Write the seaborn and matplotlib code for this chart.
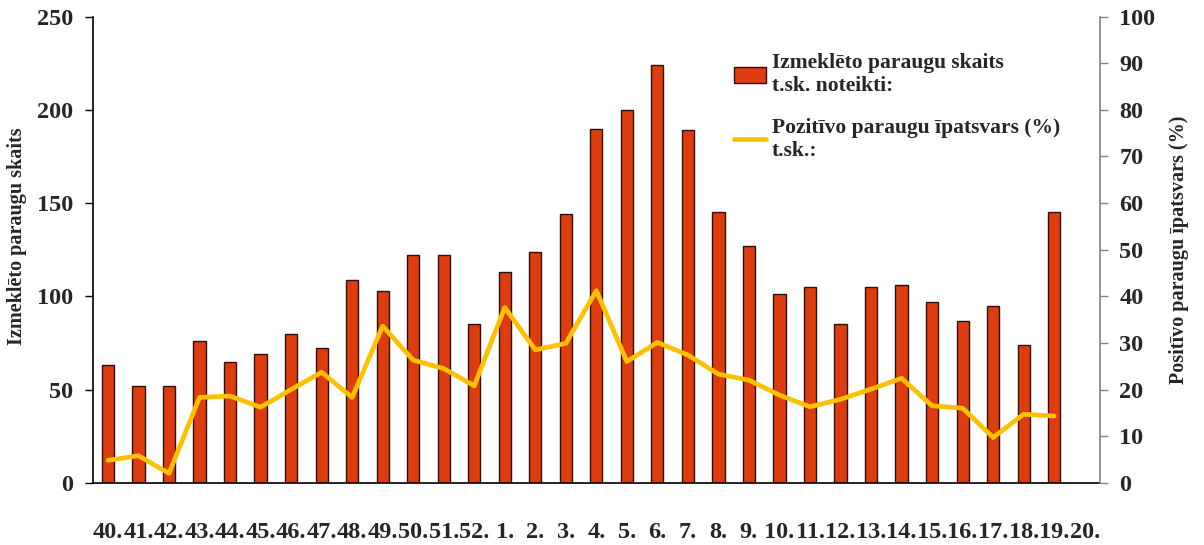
import matplotlib
matplotlib.use("Agg")
import matplotlib.pyplot as plt
import seaborn as sns
import numpy as np
import pandas as pd

weeks = ["40.", "41.", "42.", "43.", "44.", "45.", "46.", "47.", "48.", "49.",
         "50.", "51.", "52.", "1.", "2.", "3.", "4.", "5.", "6.", "7.", "8.",
         "9.", "10.", "11.", "12.", "13.", "14.", "15.", "16.", "17.", "18.",
         "19.", "20."]
samples = [63, 52, 52, 76, 65, 69, 80, 72, 109, 103,
           122, 122, 85, 113, 124, 144, 190, 200, 224, 189, 145,
           127, 101, 105, 85, 105, 106, 97, 87, 95, 74, 145]
positive_pct = [4.8, 5.8, 2.0, 18.3, 18.6, 16.2, 20.0, 23.7, 18.3, 33.6,
                26.3, 24.5, 20.8, 37.6, 28.5, 29.9, 41.2, 26.0, 30.1, 27.4, 23.3,
                22.0, 18.8, 16.3, 17.9, 20.1, 22.4, 16.5, 16.0, 9.7, 14.7, 14.3]

bar_label = "Izmeklēto paraugu skaits\nt.sk. noteikti:"
line_label = "Pozitīvo paraugu īpatsvars (%)\nt.sk.:"

sns.set_theme(style="white")
plt.rcParams["font.family"] = ["Liberation Serif", "DejaVu Serif"]
plt.rcParams["font.weight"] = "bold"

fig = plt.figure(figsize=(12.04, 5.45), dpi=100)
ax = fig.add_axes([0.077, 0.1143, 0.8366, 0.8551])

df_bar = pd.DataFrame({"week": weeks[:len(samples)], "count": samples})
sns.barplot(data=df_bar, x="week", y="count", order=weeks, ax=ax,
            color="#DD3C0E", saturation=1, width=0.4,
            edgecolor="#2a1208", linewidth=1.0, label=bar_label)
if ax.get_legend() is not None:
    ax.get_legend().remove()

ax2 = ax.twinx()
df_line = pd.DataFrame({"pos": np.arange(len(positive_pct)), "pct": positive_pct})
sns.lineplot(data=df_line, x="pos", y="pct", ax=ax2, color="#FFC000",
             linewidth=3.4, label=line_label, legend=False)

n = len(weeks)
ax.set_xlim(-0.5, n - 0.5)
ax.set_ylim(0, 250)
ax2.set_ylim(0, 100)
ax2.set_xlim(-0.5, n - 0.5)

# ticks
ax.set_yticks(np.arange(0, 251, 50))
ax.set_yticklabels([str(v) for v in range(0, 251, 50)], fontsize=17.5, fontweight="bold")
ax2.set_yticks(np.arange(0, 101, 10))
ax2.set_yticklabels([str(v) for v in range(0, 101, 10)], fontsize=17.5, fontweight="bold")

ax.set_xticks(np.arange(n))
ax.set_xticklabels(weeks, fontsize=17.5, fontweight="bold")
ax.tick_params(axis="x", length=0, pad=28)
ax.set_xticks(np.arange(-0.5, n, 1.0), minor=True)
ax.tick_params(axis="x", which="minor", length=6, width=1, color="black", direction="out")
ax.tick_params(axis="y", length=6, width=1, color="black", direction="out", left=True, pad=8)
ax2.tick_params(axis="y", length=6, width=1, color="#808080", direction="out", right=True, pad=8)

ax.set_xlabel("")
ax.set_ylabel("Izmeklēto paraugu skaits", fontsize=14.5, fontweight="bold")
ax.yaxis.set_label_coords(-0.065, 0.53)
ax2.set_ylabel("Positīvo paraugu īpatsvars (%)", fontsize=14.5, fontweight="bold", labelpad=10)
ax2.set_xlabel("")

for a in (ax, ax2):
    a.spines["top"].set_visible(False)
    a.grid(False)
ax.spines["right"].set_visible(False)
ax.spines["left"].set_color("black")
ax.spines["bottom"].set_color("black")
ax.spines["left"].set_linewidth(1.2)
ax.spines["bottom"].set_linewidth(1.2)
ax2.spines["left"].set_visible(False)
ax2.spines["bottom"].set_visible(False)
ax2.spines["right"].set_color("#808080")
ax2.spines["right"].set_linewidth(1.2)

h1, l1 = ax.get_legend_handles_labels()
h2, l2 = ax2.get_legend_handles_labels()
leg = ax2.legend(h1 + h2, l1 + l2, loc="upper left", bbox_to_anchor=(0.628, 0.94),
                 frameon=False, prop={"size": 15.5, "weight": "bold"},
                 handlelength=1.5, handleheight=0.8, handletextpad=0.25,
                 labelspacing=1.0, borderaxespad=0)

fig.savefig("out.png", dpi=100)
